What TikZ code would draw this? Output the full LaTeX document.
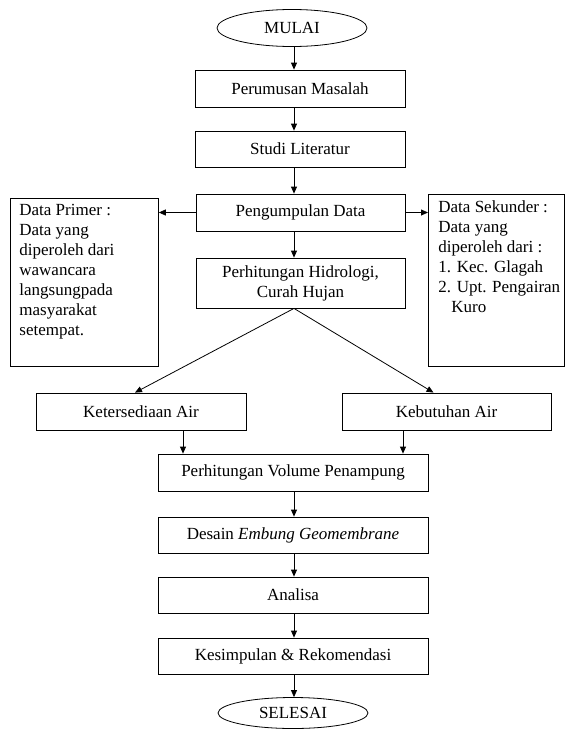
\documentclass[tikz,border=0pt]{standalone}
\usepackage{fontspec}
\setmainfont{Liberation Serif}
\usetikzlibrary{shapes.geometric,arrows.meta,calc}
\begin{document}
\begin{tikzpicture}[x=1pt,y=-1pt,
  every node/.style={font=\fontsize{17}{20}\selectfont},
  box/.style={draw,line width=0.8pt,rectangle,inner sep=0pt,align=center},
  term/.style={draw,line width=0.8pt,ellipse,inner sep=0pt,minimum width=150pt,minimum height=37pt},
  sidebox/.style={draw,line width=0.8pt,rectangle,anchor=north west,inner ysep=6pt},
  arr/.style={line width=0.8pt,-{Triangle[length=7pt,width=6pt]}}]
\useasboundingbox (0,0) rectangle (566,731);
\coordinate (col) at (294,0);
\node[term] (mulai) at (292,28) {MULAI};
\node[box,minimum width=210pt,minimum height=37pt] (perumusan) at (300,88.5) {Perumusan Masalah};
\node[box,minimum width=210pt,minimum height=36pt] (studi) at (300,149) {Studi Literatur};
\node[box,minimum width=209pt,minimum height=37pt] (pengumpulan) at (300.5,212.5) {Pengumpulan Data};
\node[box,minimum width=209pt,minimum height=50pt] (hidrologi) at (300.5,283) {Perhitungan Hidrologi,\\Curah Hujan};
\node[sidebox,inner xsep=9pt] (primer) at (10,198) {\parbox[t][156pt][t]{130pt}{\raggedright Data Primer :\\Data yang\\diperoleh dari\\wawancara\\langsungpada\\masyarakat\\setempat.}};
\node[sidebox,inner xsep=10pt] (sekunder) at (428,194) {\parbox[t][160pt][t]{116pt}{\raggedright Data Sekunder :\\Data yang\\diperoleh dari :\\\mbox{1. Kec. Glagah}\\\mbox{2. Upt. Pengairan}\\\hspace*{13pt}Kuro}};
\node[box,minimum width=210pt,minimum height=37pt] (keters) at (141,411.5) {Ketersediaan Air};
\node[box,minimum width=209pt,minimum height=37pt] (kebutuhan) at (446.5,411.5) {Kebutuhan Air};
\node[box,minimum width=270pt,minimum height=37pt] (volume) at (293,472.5) {Perhitungan Volume Penampung};
\node[box,minimum width=270pt,minimum height=36pt] (desain) at (293,535) {Desain \textit{Embung Geomembrane}};
\node[box,minimum width=270pt,minimum height=36pt] (analisa) at (293,595) {Analisa};
\node[box,minimum width=270pt,minimum height=36pt] (kesimpulan) at (293,656) {Kesimpulan \& Rekomendasi};
\node[term,minimum height=31pt] (selesai) at (293,713) {SELESAI};
\coordinate (kx) at (183,0);
\coordinate (bx) at (403,0);
\draw[arr] (mulai.south -| col) -- (perumusan.north -| col);
\draw[arr] (perumusan.south -| col) -- (studi.north -| col);
\draw[arr] (studi.south -| col) -- (pengumpulan.north -| col);
\draw[arr] (pengumpulan.south -| col) -- (hidrologi.north -| col);
\draw[arr] (pengumpulan.west) -- (pengumpulan.west -| primer.east);
\draw[arr] (pengumpulan.east) -- (pengumpulan.east -| sekunder.west);
\draw[arr] (hidrologi.south -| col) -- ($(keters.north)+(-6,0)$);
\draw[arr] (hidrologi.south -| col) -- ($(kebutuhan.north)+(-13,0)$);
\draw[arr] (keters.south -| kx) -- (volume.north -| kx);
\draw[arr] (kebutuhan.south -| bx) -- (volume.north -| bx);
\draw[arr] (volume.south -| col) -- (desain.north -| col);
\draw[arr] (desain.south -| col) -- (analisa.north -| col);
\draw[arr] (analisa.south -| col) -- (kesimpulan.north -| col);
\draw[arr] (kesimpulan.south -| col) -- (selesai.north -| col);
\end{tikzpicture}
\end{document}
